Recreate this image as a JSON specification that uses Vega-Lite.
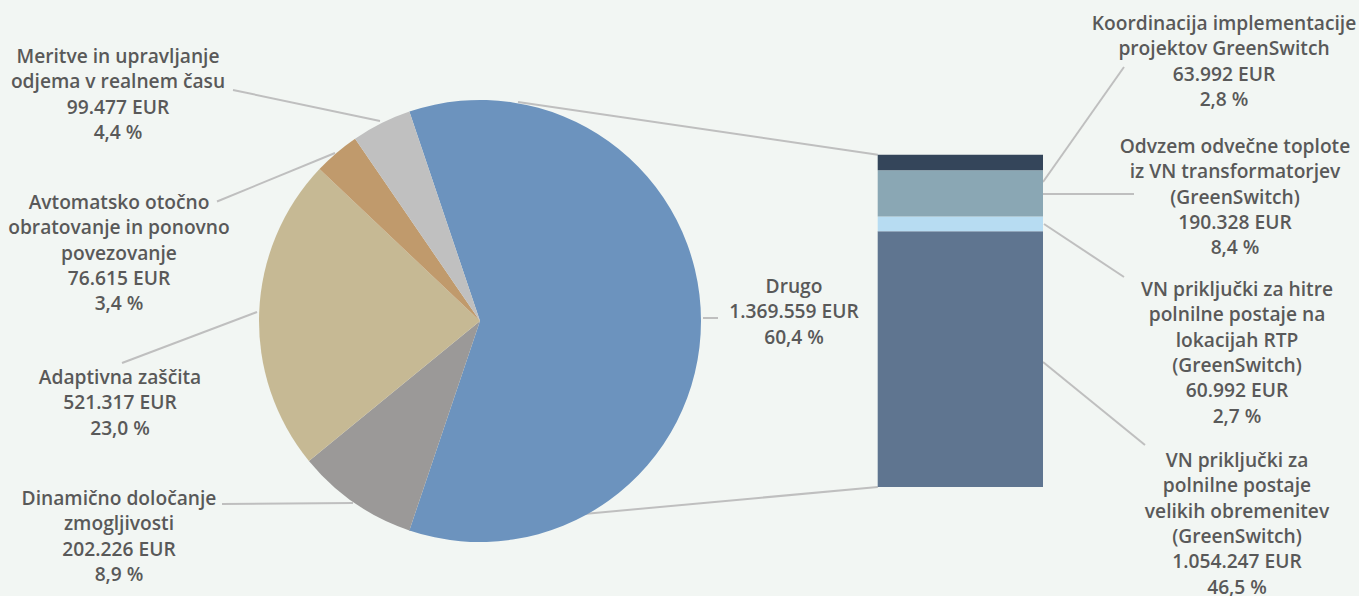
{
  "$schema": "https://vega.github.io/schema/vega-lite/v6.json",
  "width": 1359,
  "height": 596,
  "autosize": "none",
  "padding": 0,
  "background": "#F2F6F3",
  "config": {"view": {"stroke": null}},
  "datasets": {
    "slices": [
      {"name": "Drugo", "eur": 1369559, "ord": 1},
      {"name": "Dinamično določanje zmogljivosti", "eur": 202226, "ord": 2},
      {"name": "Adaptivna zaščita", "eur": 521317, "ord": 3},
      {"name": "Avtomatsko otočno obratovanje in ponovno povezovanje", "eur": 76615, "ord": 4},
      {"name": "Meritve in upravljanje odjema v realnem času", "eur": 99477, "ord": 5}
    ],
    "bar": [
      {"name": "VN priključki za polnilne postaje velikih obremenitev (GreenSwitch)", "pct": 46.5, "ord": 1},
      {"name": "VN priključki za hitre polnilne postaje na lokacijah RTP (GreenSwitch)", "pct": 2.7, "ord": 2},
      {"name": "Odvzem odvečne toplote iz VN transformatorjev (GreenSwitch)", "pct": 8.4, "ord": 3},
      {"name": "Koordinacija implementacije projektov GreenSwitch", "pct": 2.8, "ord": 4}
    ],
    "labels": [
      {"lines": ["Meritve in upravljanje", "odjema v realnem času", "99.477 EUR", "4,4 %"], "lx": 21.455, "ly": 78.182},
      {"lines": ["Avtomatsko otočno", "obratovanje in ponovno", "povezovanje", "76.615 EUR", "3,4 %"], "lx": 21.636, "ly": 51.636},
      {"lines": ["Adaptivna zaščita", "521.317 EUR", "23,0 %"], "lx": 21.818, "ly": 19.818},
      {"lines": ["Dinamično določanje", "zmogljivosti", "202.226 EUR", "8,9 %"], "lx": 21.636, "ly": -2.182},
      {"lines": ["Drugo", "1.369.559 EUR", "60,4 %"], "lx": 144.364, "ly": 36.364},
      {"lines": ["Koordinacija implementacije", "projektov GreenSwitch", "63.992 EUR", "2,8 %"], "lx": 222.545, "ly": 84.182},
      {"lines": ["Odvzem odvečne toplote", "iz VN transformatorjev", "(GreenSwitch)", "190.328 EUR", "8,4 %"], "lx": 224.545, "ly": 61.818},
      {"lines": ["VN priključki za hitre", "polnilne postaje na", "lokacijah RTP", "(GreenSwitch)", "60.992 EUR", "2,7 %"], "lx": 224.909, "ly": 35.818},
      {"lines": ["VN priključki za", "polnilne postaje", "velikih obremenitev", "(GreenSwitch)", "1.054.247 EUR", "46,5 %"], "lx": 224.909, "ly": 4.727}
    ],
    "leaders": [
      {"x1": 42.364, "y1": 72.182, "x2": 69.091, "y2": 66.545},
      {"x1": 39.455, "y1": 51.909, "x2": 60.909, "y2": 60.727},
      {"x1": 22.182, "y1": 22.545, "x2": 46.727, "y2": 31.818},
      {"x1": 40.364, "y1": -3.091, "x2": 64.182, "y2": -2.909},
      {"x1": 127.818, "y1": 30.727, "x2": 130.545, "y2": 30.727},
      {"x1": 94.182, "y1": 70.0, "x2": 159.6, "y2": 60.4},
      {"x1": 74.364, "y1": -7.818, "x2": 159.6, "y2": 0},
      {"x1": 189.636, "y1": 55.455, "x2": 204.364, "y2": 76.364},
      {"x1": 189.636, "y1": 53.273, "x2": 206.182, "y2": 53.273},
      {"x1": 189.818, "y1": 47.818, "x2": 204.364, "y2": 38.182},
      {"x1": 189.636, "y1": 22.727, "x2": 208.182, "y2": 7.636}
    ]
  },
  "layer": [
    {
      "data": {"name": "leaders"},
      "mark": {"type": "rule", "color": "#BFBFBF", "strokeWidth": 2},
      "encoding": {
        "x": {"field": "x1", "type": "quantitative", "scale": {"domain": [0, 247.0909], "nice": false, "zero": false}, "axis": null},
        "y": {"field": "y1", "type": "quantitative", "scale": {"domain": [-19.818, 88.545], "nice": false, "zero": false}, "axis": null},
        "x2": {"field": "x2"},
        "y2": {"field": "y2"}
      }
    },
    {
      "data": {"name": "slices"},
      "mark": {"type": "arc", "outerRadius": 221},
      "encoding": {
        "x": {"datum": 87.273, "type": "quantitative", "scale": {"domain": [0, 247.0909], "nice": false, "zero": false}, "axis": null},
        "y": {"datum": 30.182, "type": "quantitative", "scale": {"domain": [-19.818, 88.545], "nice": false, "zero": false}, "axis": null},
        "theta": {"field": "eur", "type": "quantitative", "stack": true, "scale": {"range": [-0.3253, 5.9579]}},
        "order": {"field": "ord", "type": "quantitative"},
        "color": {
          "field": "name", "type": "nominal", "legend": null,
          "scale": {
            "domain": ["Drugo", "Dinamično določanje zmogljivosti", "Adaptivna zaščita", "Avtomatsko otočno obratovanje in ponovno povezovanje", "Meritve in upravljanje odjema v realnem času", "VN priključki za polnilne postaje velikih obremenitev (GreenSwitch)", "VN priključki za hitre polnilne postaje na lokacijah RTP (GreenSwitch)", "Odvzem odvečne toplote iz VN transformatorjev (GreenSwitch)", "Koordinacija implementacije projektov GreenSwitch"],
            "range": ["#6C93BE", "#9B9998", "#C6B994", "#C09A6C", "#C0C0C0", "#5F7590", "#B7DCF2", "#8AA7B4", "#34455A"]
          }
        }
      }
    },
    {
      "data": {"name": "bar"},
      "transform": [
        {"stack": "pct", "groupby": [], "sort": [{"field": "ord", "order": "ascending"}], "as": ["y0", "y1"]}
      ],
      "mark": {"type": "rect"},
      "encoding": {
        "x": {"datum": 159.582, "type": "quantitative", "scale": {"domain": [0, 247.0909], "nice": false, "zero": false}, "axis": null},
        "x2": {"datum": 189.636},
        "y": {"field": "y0", "type": "quantitative", "scale": {"domain": [-19.818, 88.545], "nice": false, "zero": false}, "axis": null},
        "y2": {"field": "y1"},
        "color": {
          "field": "name", "type": "nominal", "legend": null,
          "scale": {
            "domain": ["Drugo", "Dinamično določanje zmogljivosti", "Adaptivna zaščita", "Avtomatsko otočno obratovanje in ponovno povezovanje", "Meritve in upravljanje odjema v realnem času", "VN priključki za polnilne postaje velikih obremenitev (GreenSwitch)", "VN priključki za hitre polnilne postaje na lokacijah RTP (GreenSwitch)", "Odvzem odvečne toplote iz VN transformatorjev (GreenSwitch)", "Koordinacija implementacije projektov GreenSwitch"],
            "range": ["#6C93BE", "#9B9998", "#C6B994", "#C09A6C", "#C0C0C0", "#5F7590", "#B7DCF2", "#8AA7B4", "#34455A"]
          }
        }
      }
    },
    {
      "data": {"name": "labels"},
      "mark": {"type": "text", "align": "center", "baseline": "middle", "lineHeight": 25.3, "font": "Open Sans", "fontSize": 19.2, "fontWeight": 600, "color": "#595959"},
      "encoding": {
        "x": {"field": "lx", "type": "quantitative", "scale": {"domain": [0, 247.0909], "nice": false, "zero": false}, "axis": null},
        "y": {"field": "ly", "type": "quantitative", "scale": {"domain": [-19.818, 88.545], "nice": false, "zero": false}, "axis": null},
        "text": {"field": "lines"}
      }
    }
  ]
}
